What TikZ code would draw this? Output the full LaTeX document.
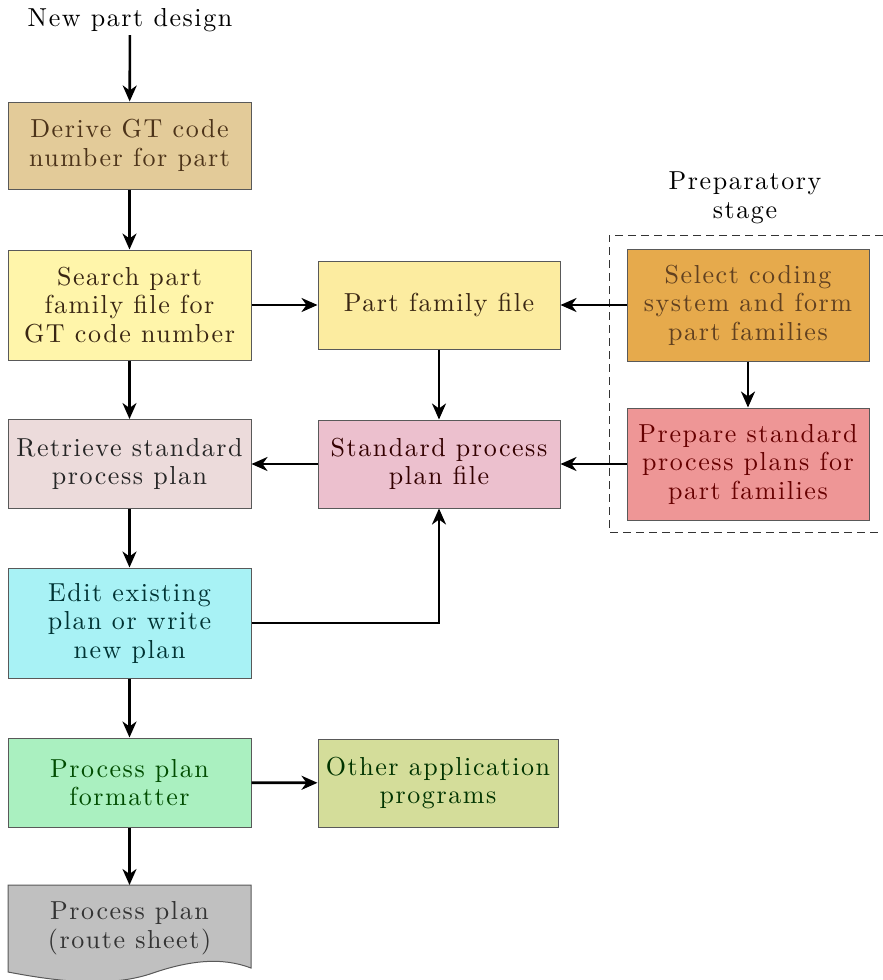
\documentclass[tikz,border=0pt]{standalone}
\usepackage{fontspec}
\usetikzlibrary{arrows.meta}

\newfontfamily\boxfam{lmroman10-regular.otf}[LetterSpace=6]

\definecolor{derivefill}{RGB}{227,203,153}
\definecolor{searchfill}{RGB}{255,245,170}
\definecolor{famfill}{RGB}{252,236,160}
\definecolor{retrfill}{RGB}{236,219,219}
\definecolor{stdfill}{RGB}{236,192,206}
\definecolor{selectfill}{RGB}{230,170,76}
\definecolor{prepfill}{RGB}{238,150,150}
\definecolor{editfill}{RGB}{168,242,245}
\definecolor{fmtfill}{RGB}{170,240,192}
\definecolor{otherfill}{RGB}{212,221,154}
\definecolor{planfill}{RGB}{192,192,192}

\newcommand{\boxfont}{\boxfam\fontsize{26}{28.5}\selectfont}

\begin{document}
\begin{tikzpicture}[x=1pt,y=-1pt,
    box/.style={draw=black!65, line width=1pt, minimum width=243pt, align=center,
        inner sep=0pt, font=\boxfont, text=black!85},
    arr/.style={line width=2.6pt, -{Stealth[length=16pt,width=14pt,inset=5pt]}},
]
    \useasboundingbox (0,0) rectangle (883,980);

    % left column
    \node[font=\boxfont] (new) at (130,20) {New part design};
    \node[box, fill=derivefill, minimum height=87pt, text=brown!40!black] (derive) at (129.5,145.5) {Derive GT code\\number for part};
    \node[box, fill=searchfill, minimum height=110pt, text=brown!30!black] (search) at (129.5,305) {Search part\\family file for\\GT code number};
    \node[box, fill=retrfill, minimum height=89pt] (retrieve) at (129.5,464) {Retrieve standard\\process plan};
    \node[box, fill=editfill, minimum height=110pt, text=teal!40!black] (edit) at (129.5,623) {Edit existing\\plan or write\\new plan};
    \node[box, fill=fmtfill, minimum height=89pt, text=green!30!black] (fmt) at (129.5,782.5) {Process plan\\formatter};

    % route sheet (document shape)
    \fill[planfill] (8,885) -- (251,885) -- (251,968)
        .. controls (222,957) and (190,960) .. (150,974)
        .. controls (110,987) and (60,982) .. (8,972) -- cycle;
    \draw[black!65, line width=1pt] (8,885) -- (251,885) -- (251,968)
        .. controls (222,957) and (190,960) .. (150,974)
        .. controls (110,987) and (60,982) .. (8,972) -- cycle;
    \node[align=center, font=\boxfont, text=black!80] (plan) at (129.5,928) {Process plan\\(route sheet)};
    \coordinate (plantop) at (129.5,885);

    % middle column
    \node[box, fill=famfill, minimum width=242pt, minimum height=88pt, text=brown!30!black] (famfile) at (439,305) {Part family file};
    \node[box, fill=stdfill, minimum width=242pt, minimum height=88pt, text=red!20!black] (stdfile) at (439,464) {Standard process\\plan file};
    \node[box, fill=otherfill, minimum width=240pt, minimum height=88pt, text=green!20!black] (other) at (438,783) {Other application\\programs};

    % preparatory stage
    \node[align=center, font=\boxfont] (prep) at (745,198) {Preparatory\\stage};
    \draw[black!80, line width=1pt, dash pattern=on 8pt off 5pt] (883,235) -- (609,235) -- (609,532) -- (883,532);
    \node[box, fill=selectfill, minimum width=242pt, minimum height=112pt, text=brown!50!black] (select) at (748,305) {Select coding\\system and form\\part families};
    \node[box, fill=prepfill, minimum width=242pt, minimum height=112pt, text=red!40!black] (prepare) at (748,464) {Prepare standard\\process plans for\\part families};

    % arrows
    \draw[arr] (new) -- (derive);
    \draw[arr] (derive) -- (search);
    \draw[arr] (search) -- (retrieve);
    \draw[arr] (retrieve) -- (edit);
    \draw[arr] (edit) -- (fmt);
    \draw[arr] (fmt) -- (plantop);
    \draw[arr] (search) -- (famfile);
    \draw[arr] (select) -- (famfile);
    \draw[arr] (famfile) -- (stdfile);
    \draw[arr] (prepare) -- (stdfile);
    \draw[arr] (select) -- (prepare);
    \draw[arr] (stdfile) -- (retrieve);
    \draw[arr] (edit.east) -| (stdfile.south);
    \draw[arr] (fmt) -- (other);
\end{tikzpicture}
\end{document}
